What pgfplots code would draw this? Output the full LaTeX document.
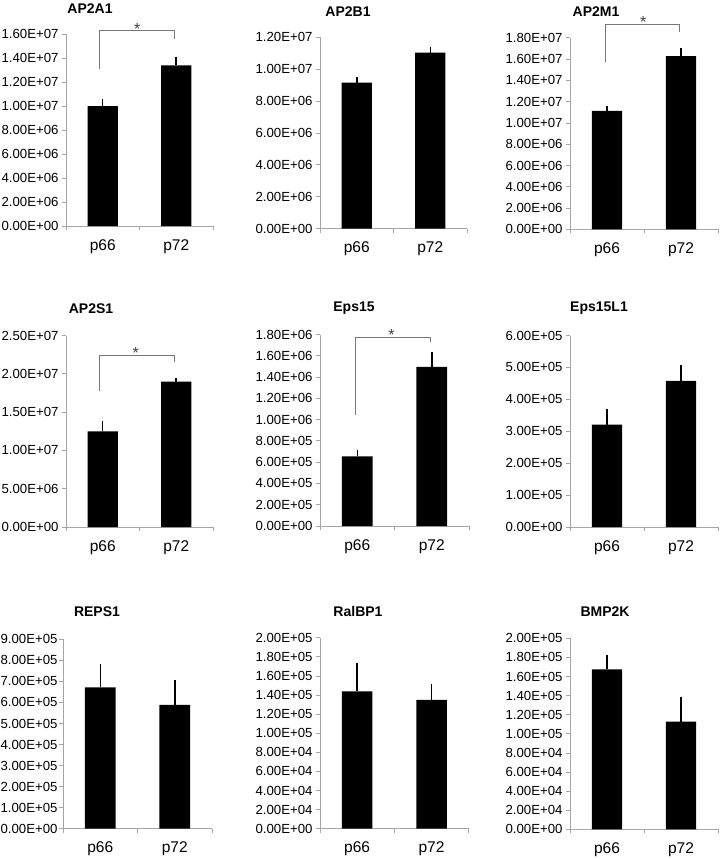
\documentclass[border=0pt]{standalone}
\usepackage{pgfplots}
\pgfplotsset{compat=1.18}
\usepackage{fontspec}
\setmainfont{Liberation Sans}
\definecolor{axisgray}{RGB}{165,165,165}
\definecolor{brgray}{RGB}{120,120,120}
\pgfplotsset{
 panel/.style={
   scale only axis, width=147pt, height=191.5pt,
   xmin=-0.5, xmax=1.5, ymin=0,
   scaled y ticks=false,
   axis x line=bottom, axis y line=left,
   axis line style={-, draw=axisgray, line width=0.8pt},
   tick align=outside, major tick length=4pt,
   ytick style={draw=axisgray, line width=0.8pt},
   xtick={0,1}, xticklabels={p66,p72},
   xtick style={draw=none},
   extra x ticks={-0.5,0.5,1.5}, extra x tick labels={,,},
   extra x tick style={xtick style={draw=axisgray, line width=0.8pt}},
   xticklabel style={font=\fontsize{15.5}{18}\selectfont, anchor=base, yshift=-20pt},
   yticklabel style={font=\fontsize{13.2}{15}\selectfont, text=black},
   clip=false,
   anchor=south west,
 },
 mybar/.style={ybar, bar width=0.41, fill=black, draw=none,
   error bars/.cd, y dir=plus, y explicit, error mark=none,
   error bar style={line width=1.5pt, black}},
 bracket/.style={draw=brgray, line width=0.8pt, mark=none, forget plot},
}
\newcommand{\ttl}[3]{\node[font=\fontsize{14}{16}\selectfont\bfseries] at (#1pt,-#2pt) {#3};}
\newcommand{\sigstar}{\fontsize{16}{18}\selectfont *}
\begin{document}
\begin{tikzpicture}
\path[use as bounding box] (0,0) rectangle (720pt,-859pt);
% ---------- Row 1 ----------
\begin{axis}[panel, at={(66pt,-226pt)}, height=192pt, ymax=1.6e7,
  ytick={0,2e6,4e6,6e6,8e6,1e7,1.2e7,1.4e7,1.6e7},
  yticklabels={0.00E+00,2.00E+06,4.00E+06,6.00E+06,8.00E+06,1.00E+07,1.20E+07,1.40E+07,1.60E+07}]
\addplot[mybar] coordinates {(0,1.0e7) +- (0,0.056e7) (1,1.339e7) +- (0,0.072e7)};
\addplot[bracket] coordinates {(-0.04,1.31e7) (-0.04,1.628e7) (0.97,1.628e7) (0.97,1.56e7)};
\node[anchor=base, inner sep=0, text=black!75] at (axis cs:0.47,1.6e7) {\sigstar};
\end{axis}
\begin{axis}[panel, at={(320pt,-228.7pt)}, ymax=1.2e7,
  ytick={0,2e6,4e6,6e6,8e6,1e7,1.2e7},
  yticklabels={0.00E+00,2.00E+06,4.00E+06,6.00E+06,8.00E+06,1.00E+07,1.20E+07}]
\addplot[mybar] coordinates {(0,9.15e6) +- (0,0.38e6) (1,11.03e6) +- (0,0.38e6)};
\end{axis}
\begin{axis}[panel, at={(570pt,-229.3pt)}, width=148pt, ymax=1.8e7,
  ytick={0,2e6,4e6,6e6,8e6,1e7,1.2e7,1.4e7,1.6e7,1.8e7},
  yticklabels={0.00E+00,2.00E+06,4.00E+06,6.00E+06,8.00E+06,1.00E+07,1.20E+07,1.40E+07,1.60E+07,1.80E+07}]
\addplot[mybar] coordinates {(0,11.12e6) +- (0,0.47e6) (1,16.28e6) +- (0,0.79e6)};
\addplot[bracket] coordinates {(-0.02,1.57e7) (-0.02,1.93e7) (0.98,1.93e7) (0.98,1.85e7)};
\node[anchor=base, inner sep=0, text=black!75] at (axis cs:0.49,1.9e7) {\sigstar};
\end{axis}
% ---------- Row 2 ----------
\begin{axis}[panel, at={(66pt,-527pt)}, ymax=2.5e7,
  ytick={0,5e6,1e7,1.5e7,2e7,2.5e7},
  yticklabels={0.00E+00,5.00E+06,1.00E+07,1.50E+07,2.00E+07,2.50E+07}]
\addplot[mybar] coordinates {(0,12.49e6) +- (0,1.39e6) (1,18.98e6) +- (0,0.44e6)};
\addplot[bracket] coordinates {(-0.04,1.77e7) (-0.04,2.24e7) (0.97,2.24e7) (0.97,2.16e7)};
\node[anchor=base, inner sep=0, text=black!75] at (axis cs:0.45,2.2e7) {\sigstar};
\end{axis}
\begin{axis}[panel, at={(320pt,-526pt)}, width=149pt, ymax=1.8e6,
  ytick={0,2e5,4e5,6e5,8e5,1e6,1.2e6,1.4e6,1.6e6,1.8e6},
  yticklabels={0.00E+00,2.00E+05,4.00E+05,6.00E+05,8.00E+05,1.00E+06,1.20E+06,1.40E+06,1.60E+06,1.80E+06}]
\addplot[mybar] coordinates {(0,0.654e6) +- (0,0.056e6) (1,1.495e6) +- (0,0.143e6)};
\addplot[bracket] coordinates {(-0.02,1.044e6) (-0.02,1.77e6) (0.985,1.77e6) (0.985,1.73e6)};
\node[anchor=base, inner sep=0, text=black!75] at (axis cs:0.46,1.745e6) {\sigstar};
\end{axis}
\begin{axis}[panel, at={(570pt,-527pt)}, width=148pt, ymax=6e5,
  ytick={0,1e5,2e5,3e5,4e5,5e5,6e5},
  yticklabels={0.00E+00,1.00E+05,2.00E+05,3.00E+05,4.00E+05,5.00E+05,6.00E+05}]
\addplot[mybar] coordinates {(0,3.21e5) +- (0,0.48e5) (1,4.58e5) +- (0,0.51e5)};
\end{axis}
% ---------- Row 3 ----------
\begin{axis}[panel, at={(63pt,-828.7pt)}, width=149pt, height=189.4pt, ymax=9e5,
  yticklabel style={xshift=2pt},
  ytick={0,1e5,2e5,3e5,4e5,5e5,6e5,7e5,8e5,9e5},
  yticklabels={0.00E+00,1.00E+05,2.00E+05,3.00E+05,4.00E+05,5.00E+05,6.00E+05,7.00E+05,8.00E+05,9.00E+05}]
\addplot[mybar] coordinates {(0,6.72e5) +- (0,1.09e5) (1,5.89e5) +- (0,1.18e5)};
\end{axis}
\begin{axis}[panel, at={(320pt,-828.7pt)}, width=148.7pt, height=191pt, ymax=2e5,
  ytick={0,2e4,4e4,6e4,8e4,1e5,1.2e5,1.4e5,1.6e5,1.8e5,2e5},
  yticklabels={0.00E+00,2.00E+04,4.00E+04,6.00E+04,8.00E+04,1.00E+05,1.20E+05,1.40E+05,1.60E+05,1.80E+05,2.00E+05}]
\addplot[mybar] coordinates {(0,1.439e5) +- (0,0.293e5) (1,1.348e5) +- (0,0.167e5)};
\end{axis}
\begin{axis}[panel, at={(570pt,-829.3pt)}, width=148pt, height=191pt, ymax=2e5,
  ytick={0,2e4,4e4,6e4,8e4,1e5,1.2e5,1.4e5,1.6e5,1.8e5,2e5},
  yticklabels={0.00E+00,2.00E+04,4.00E+04,6.00E+04,8.00E+04,1.00E+05,1.20E+05,1.40E+05,1.60E+05,1.80E+05,2.00E+05}]
\addplot[mybar] coordinates {(0,1.675e5) +- (0,0.153e5) (1,1.127e5) +- (0,0.262e5)};
\end{axis}
% ---------- Titles ----------
\ttl{90}{9}{AP2A1}
\ttl{348}{12}{AP2B1}
\ttl{596}{12}{AP2M1}
\ttl{91}{308.5}{AP2S1}
\ttl{354}{308}{Eps15}
\ttl{599}{308}{Eps15L1}
\ttl{97}{611.5}{REPS1}
\ttl{358}{611.5}{RalBP1}
\ttl{605}{612}{BMP2K}
\end{tikzpicture}
\end{document}
